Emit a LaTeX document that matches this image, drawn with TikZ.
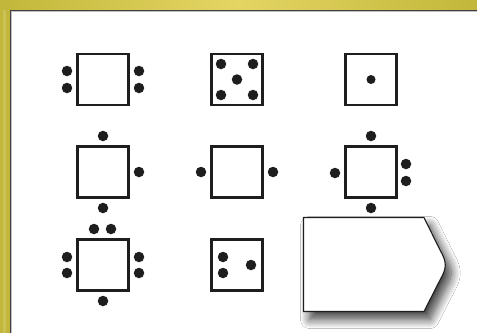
\documentclass[tikz,border=0pt]{standalone}
\usetikzlibrary{shadows.blur}
\definecolor{golddark}{HTML}{C2B73A}
\definecolor{goldlight}{HTML}{E4D563}
\definecolor{inkc}{HTML}{1E1E1E}
\begin{document}
\begin{tikzpicture}[x=1pt,y=-1pt,
  box/.style={draw=inkc,line width=2.3pt,fill=white,minimum size=51pt,inner sep=0pt,outer sep=0pt},
  dot/.style={circle,fill=inkc,minimum size=10.5pt,inner sep=0pt},
  sdot/.style={circle,fill=inkc,minimum size=9pt,inner sep=0pt}]
\useasboundingbox (0,0) rectangle (477,333);
\fill[white] (0,0) rectangle (477,333);
% frame
\shade[left color=golddark,right color=golddark,middle color=goldlight] (0,0) rectangle (477,9.5);
\fill[golddark] (0,0) rectangle (9.5,333);
\fill[golddark!85!white] (3,9.5) rectangle (6,333);
\draw[line width=1.6pt,color=black!75] (10.3,333) -- (10.3,10.3) -- (477,10.3);
\draw[line width=0.8pt,color=black!25] (11.6,333) -- (11.6,11.6) -- (477,11.6);
% row 1
\node[box] (s1) at (103,79.5) {};
\node[dot] (s1a) at (67,71) {};
\node[dot] (s1b) at (67,88) {};
\node[dot] (s1c) at (139,71) {};
\node[dot] (s1d) at (139,88) {};
\node[box] (s2) at (237,79.5) {};
\node[dot] (s2a) at (221,64) {};
\node[dot] (s2b) at (253,64) {};
\node[dot] (s2c) at (237,79.5) {};
\node[dot] (s2d) at (221,95) {};
\node[dot] (s2e) at (253,95) {};
\node[box] (s3) at (371,79.5) {};
\node[sdot] (s3a) at (371,79.5) {};
% row 2
\node[box] (s4) at (103,172) {};
\node[dot] (s4a) at (103,136) {};
\node[dot] (s4b) at (139,172) {};
\node[dot] (s4c) at (103,208) {};
\node[box] (s5) at (237,172) {};
\node[dot] (s5a) at (201,172) {};
\node[dot] (s5b) at (273,172) {};
\node[box] (s6) at (371,172) {};
\node[dot] (s6a) at (371,136) {};
\node[dot] (s6b) at (335,173) {};
\node[dot] (s6c) at (406,164) {};
\node[dot] (s6d) at (406,181) {};
\node[dot] (s6e) at (371,208) {};
% row 3
\node[box] (s7) at (103,265) {};
\node[dot] (s7a) at (94,229) {};
\node[dot] (s7b) at (111,229) {};
\node[dot] (s7c) at (67,257) {};
\node[dot] (s7d) at (67,273) {};
\node[dot] (s7e) at (139,257) {};
\node[dot] (s7f) at (139,273) {};
\node[dot] (s7g) at (103,301) {};
\node[box] (s8) at (237,265) {};
\node[dot] (s8a) at (223,257) {};
\node[dot] (s8b) at (223,273) {};
\node[dot] (s8c) at (251,265) {};
% pentagon
\draw[draw=inkc,line width=1.1pt,fill=white,
  blur shadow={shadow xshift=6pt,shadow yshift=-8pt,shadow blur radius=9pt,shadow blur steps=12,shadow opacity=75}]
  (303.5,217.5) -- (424,217.5) -- (440,250) .. controls (447,262) and (447,268) .. (440,280) -- (424,311.5) -- (303.5,311.5) -- cycle;
\coordinate (p) at (371,264);
\end{tikzpicture}
\end{document}
